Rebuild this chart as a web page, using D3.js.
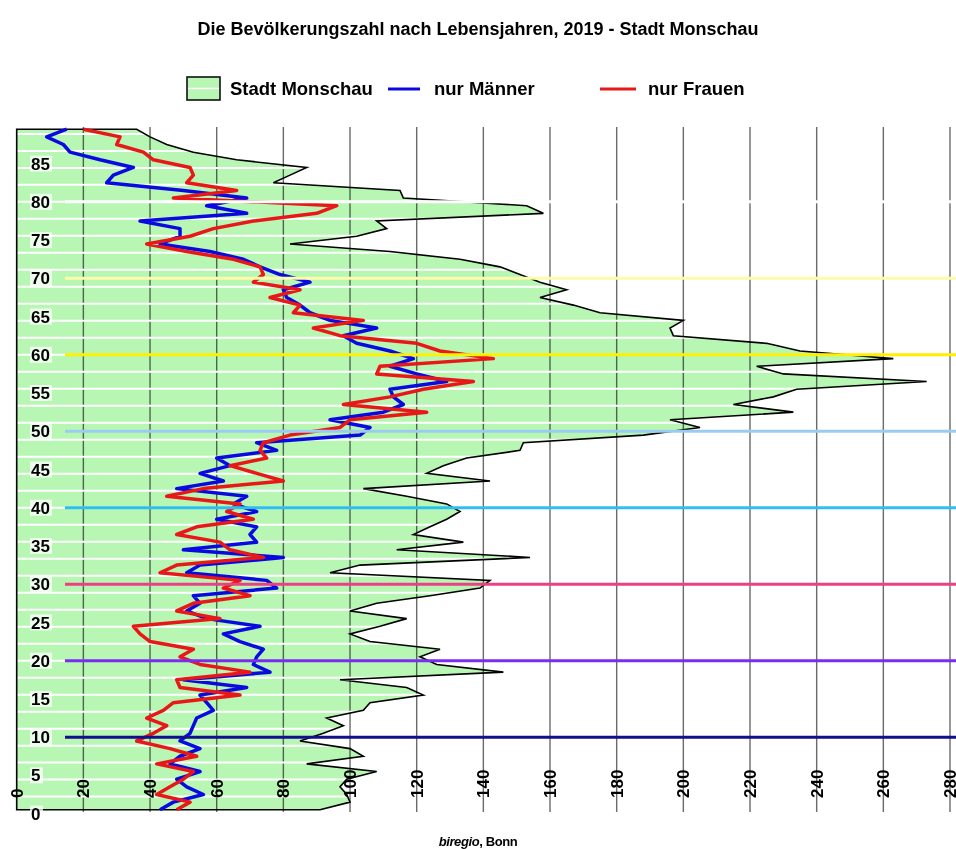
<!DOCTYPE html>
<html><head><meta charset="utf-8">
<script src="https://cdn.jsdelivr.net/npm/d3@7"></script>
<style>
body{margin:0;background:#fff;}
svg{display:block;font-family:"Liberation Sans",Arial,sans-serif;}
</style></head>
<body><svg id="c" width="956" height="849"></svg>
<script>
// ---- data (ages 0..89) ----
const ages = d3.range(0, 90);
const total = [91,100,99,97,99,108,87,104,100,85,
  92,98,93,104,106,122,117,97,146,126,
  121,127,106,100,109,117,100,108,124,139,
  142,94,103,154,114,134,119,124,129,133,
  129,117,104,142,123,128,135,151,152,188,
  205,196,233,215,227,234,273,230,222,263,
  235,225,197,196,200,175,167,157,165,157,
  151,145,133,112,82,102,111,108,158,153,
  116,115,77,82,87,66,53,45,40,36];
const men = [43,47,56,51,48,55,46,49,55,49,
  52,53,54,59,57,55,69,50,76,71,
  72,74,67,62,73,57,51,55,53,78,
  75,51,55,80,50,72,70,72,60,72,
  65,69,48,62,55,64,60,78,72,103,
  106,94,110,116,113,112,129,120,112,119,
  112,102,98,108,94,88,85,81,80,88,
  79,73,68,58,43,49,49,37,69,57,
  69,50,27,29,35,25,16,14,9,15];
const women = [48,52,42,46,50,53,42,54,46,36,
  41,45,39,44,47,67,49,48,70,55,
  49,53,40,37,35,61,48,53,70,62,
  67,43,48,74,64,61,48,54,71,63,
  67,45,56,80,72,64,75,73,74,82,
  97,100,123,98,112,122,137,108,109,143,
  127,120,97,89,104,83,85,76,85,71,
  74,73,65,51,39,52,59,71,90,96,
  47,66,51,53,52,41,38,30,31,20];
const xTicks = d3.range(0, 281, 20);
const yTicks = d3.range(0, 86, 5);
const refAges = [10,20,30,40,50,60,70,80];
const refColors = ["#10108a","#7a2cf0","#ec3f86","#2cc0f0","#9ccbf2","#ffef00","#fdfbaa","#ffffff"];
const title = "Die Bevölkerungszahl nach Lebensjahren, 2019 - Stadt Monschau";
const legendLabels = ["Stadt Monschau","nur Männer","nur Frauen"];

// ---- scales ----
const x = d3.scaleLinear().domain([0, 280]).range([16.7, 950]);
const y = d3.scaleLinear().domain([0, 90]).range([813.6, 125.4]);
const svg = d3.select("#c");
const GREEN = "#b8f6b4";

const rows = ages.map(a => ({a, t: total[a], m: men[a], w: women[a]}));
const area = d3.area().y(d => y(d.a + 0.5)).x0(x(0)).x1(d => x(d.t));

// title
svg.append("text").attr("x", 478).attr("y", 35).attr("text-anchor","middle")
  .attr("font-size", 18).attr("font-weight","bold").text(title);

// legend
const lg = svg.append("g");
lg.append("rect").attr("x",187).attr("y",77).attr("width",33).attr("height",23)
  .attr("fill",GREEN).attr("stroke","#111").attr("stroke-width",1.6);
lg.append("line").attr("x1",188).attr("x2",219).attr("y1",88.5).attr("y2",88.5).attr("stroke","#fff").attr("stroke-width",1.5);
lg.append("text").attr("x",230).attr("y",95).attr("font-size",18.5).attr("font-weight","bold").text(legendLabels[0]);
lg.append("line").attr("x1",388).attr("x2",420).attr("y1",89).attr("y2",89).attr("stroke","#0a0ae0").attr("stroke-width",3);
lg.append("text").attr("x",434).attr("y",95).attr("font-size",18.5).attr("font-weight","bold").text(legendLabels[1]);
lg.append("line").attr("x1",600).attr("x2",636).attr("y1",89).attr("y2",89).attr("stroke","#e81818").attr("stroke-width",3);
lg.append("text").attr("x",648).attr("y",95).attr("font-size",18.5).attr("font-weight","bold").text(legendLabels[2]);

// clip for stripes
svg.append("clipPath").attr("id","ac").append("path").attr("d", area(rows));

// green area
svg.append("path").attr("d", area(rows)).attr("fill", GREEN);

// vertical gridlines
svg.append("g").selectAll("line").data(xTicks.filter(v => v > 0)).join("line")
  .attr("x1", d => x(d)).attr("x2", d => x(d)).attr("y1", 127).attr("y2", 812)
  .attr("stroke", "#6a6a6a").attr("stroke-width", 1.4).style("mix-blend-mode","multiply");

// white stripes within area
svg.append("g").attr("clip-path","url(#ac)").selectAll("line")
  .data(d3.range(0, 90, 20/9)).join("line")
  .attr("x1", x(0)).attr("x2", 956).attr("y1", d => y(d)).attr("y2", d => y(d))
  .attr("stroke","#fff").attr("stroke-width",2);

// outline
svg.append("path").attr("d", area(rows)).attr("fill","none").attr("stroke","#000").attr("stroke-width",1.6);

// men / women
const lm = d3.line().x(d => x(d.m)).y(d => y(d.a + 0.5));
const lw = d3.line().x(d => x(d.w)).y(d => y(d.a + 0.5));
svg.append("path").attr("d", lm(rows)).attr("fill","none").attr("stroke","#0a0ae0").attr("stroke-width",3.5).attr("stroke-linejoin","round");
svg.append("path").attr("d", lw(rows)).attr("fill","none").attr("stroke","#e81818").attr("stroke-width",3.5).attr("stroke-linejoin","round");

// reference lines
svg.append("g").selectAll("line").data(refAges).join("line")
  .attr("x1", 65).attr("x2", 956).attr("y1", d => y(d)).attr("y2", d => y(d))
  .attr("stroke", (d,i) => refColors[i]).attr("stroke-width", 3);

// y labels
const yl = svg.append("g").selectAll("g").data(yTicks).join("g");
yl.append("rect").attr("x", 30).attr("y", d => y(d) - 8).attr("width", d => d < 10 ? 13 : 22).attr("height", 16)
  .attr("fill","#fff").attr("opacity", 0.75);
yl.append("text").attr("x", 31).attr("y", d => y(d)).attr("dy","0.36em")
  .attr("font-size", 17).attr("font-weight","bold").text(d => d);

// x labels
svg.append("g").selectAll("text").data(xTicks).join("text")
  .attr("transform", d => `translate(${x(d)},798) rotate(-90)`)
  .attr("dy","0.36em").attr("font-size", 17).attr("font-weight","bold").text(d => d);

// source
const src = svg.append("text").attr("x", 478).attr("y", 846).attr("text-anchor","middle")
  .attr("font-size", 13).attr("font-weight","bold").attr("letter-spacing", -0.4);
src.append("tspan").attr("font-style","italic").text("biregio");
src.append("tspan").text(", Bonn");
</script></body></html>
